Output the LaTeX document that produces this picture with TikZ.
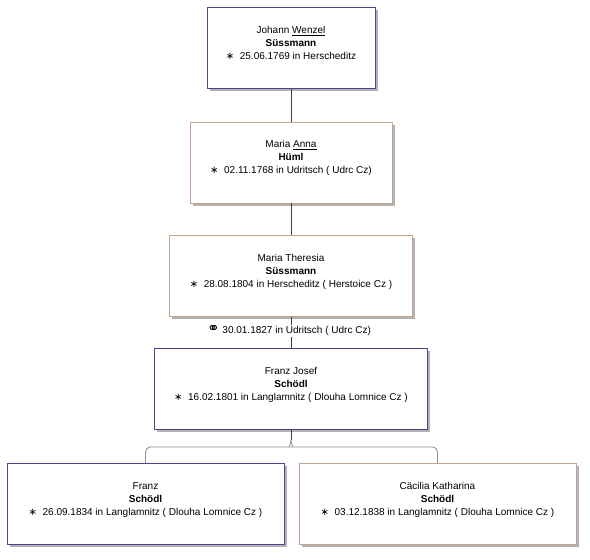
\documentclass[tikz,border=0pt]{standalone}
\usepackage{fontspec}
\setmainfont{Liberation Sans}
\newfontfamily\symfont{DejaVu Sans}
\usetikzlibrary{shadows}
\definecolor{manblue}{RGB}{72,72,150}
\definecolor{womantan}{RGB}{200,162,142}
\begin{document}
\begin{tikzpicture}[x=1pt,y=-1pt]
\tikzstyle{every node}+=[inner sep=0pt]
\tikzstyle{person}=[draw, fill=white, line width=0.9pt, minimum height=81pt,
  drop shadow={shadow xshift=2.5pt,shadow yshift=-2.5pt,fill=black!30,opacity=1}]
\tikzstyle{male}=[person, draw=manblue]
\tikzstyle{female}=[person, draw=womantan]
\tikzstyle{info}=[anchor=north, align=center, font=\fontsize{10}{13}\selectfont, yshift=-19pt]
\tikzstyle{link}=[draw=black!75, line width=0.7pt]
\tikzstyle{fork}=[draw=black!45, line width=0.8pt, rounded corners=5pt]
\useasboundingbox[fill=white] (0,0) rectangle (590,560);
% boxes
\node[male, minimum width=168pt] (johann) at (291,48) {};
\node[info] (johann-txt) at (johann.north) {Johann \underline{Wenzel}\\\textbf{Süssmann}\\{\symfont∗}\ \ 25.06.1769 in Herscheditz};
\node[female, minimum width=202pt] (anna) at (291,162.5) {};
\node[info] (anna-txt) at (anna.north) {Maria \underline{Anna}\\\textbf{Hüml}\\{\symfont∗}\ \ 02.11.1768 in Udritsch ( Udrc Cz)};
\node[female, minimum width=243pt] (theresia) at (291,276) {};
\node[info] (theresia-txt) at (theresia.north) {Maria Theresia\\\textbf{Süssmann}\\{\symfont∗}\ \ 28.08.1804 in Herscheditz ( Herstoice Cz )};
\node[male, minimum width=273pt] (franzjosef) at (291,389) {};
\node[info] (franzjosef-txt) at (franzjosef.north) {Franz Josef\\\textbf{Schödl}\\{\symfont∗}\ \ 16.02.1801 in Langlamnitz ( Dlouha Lomnice Cz )};
\node[male, minimum width=277pt] (franz) at (145.5,504) {};
\node[info] (franz-txt) at (franz.north) {Franz\\\textbf{Schödl}\\{\symfont∗}\ \ 26.09.1834 in Langlamnitz ( Dlouha Lomnice Cz )};
\node[female, minimum width=277pt] (caecilia) at (437.5,504) {};
\node[info] (caecilia-txt) at (caecilia.north) {Cäcilia Katharina\\\textbf{Schödl}\\{\symfont∗}\ \ 03.12.1838 in Langlamnitz ( Dlouha Lomnice Cz )};
% links
\draw[link] (johann.south) -- (anna.north);
\draw[link] (anna.south) -- (theresia.north);
\draw[link] (theresia.south) -- (franzjosef.north);
\node[font=\fontsize{10}{13}\selectfont, fill=white, inner sep=1pt] (marriage) at (289,331)
  {{\symfont\fontsize{15}{15}\selectfont⚭}\ 30.01.1827 in Udritsch ( Udrc Cz)};
% children
\coordinate (split) at ([yshift=-10pt]franzjosef.south);
\draw[link] (franzjosef.south) -- (split);
\draw[fork] (split) to[out=-90,in=0] ([xshift=-6pt,yshift=-7pt]split) -| (franz.north);
\draw[fork] (split) to[out=-90,in=180] ([xshift=6pt,yshift=-7pt]split) -| (caecilia.north);
\end{tikzpicture}
\end{document}
